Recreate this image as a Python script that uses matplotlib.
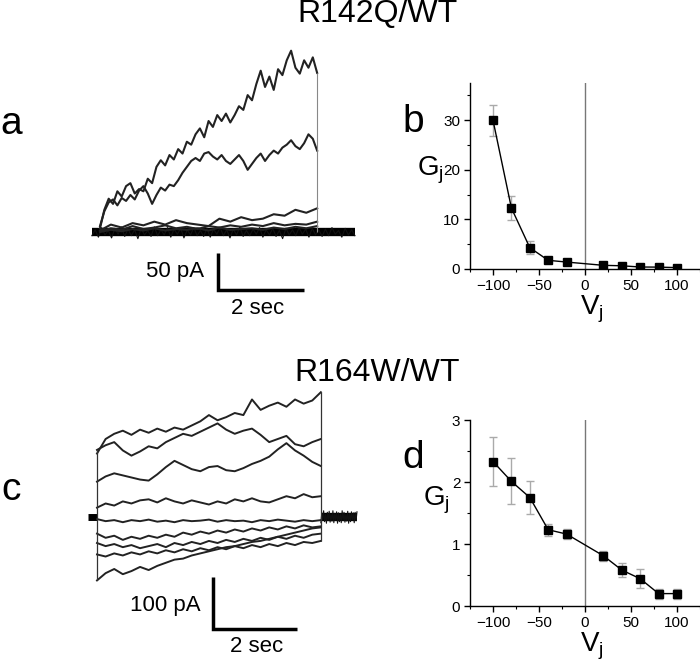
import numpy as np
import matplotlib
matplotlib.use("Agg")
import matplotlib.pyplot as plt
from matplotlib.ticker import MultipleLocator

plt.rcParams['font.family'] = ['Liberation Sans', 'DejaVu Sans']
plt.rcParams['mathtext.fontset'] = 'custom'
plt.rcParams['mathtext.rm'] = 'Liberation Sans'

W, H = 700, 663

# ---------------- data ----------------
titles = ["R142Q/WT", "R164W/WT"]
panel_letters = ["a", "b", "c", "d"]

vj = [-100, -80, -60, -40, -20, 20, 40, 60, 80, 100]
gj_b = [30.0, 12.3, 4.3, 1.75, 1.4, 0.74, 0.65, 0.4, 0.38, 0.28]
gj_b_err = [3.1, 2.35, 1.3, 0.25, 0.2, 0.12, 0.12, 0.1, 0.1, 0.08]
gj_d = [2.33, 2.01, 1.75, 1.23, 1.16, 0.81, 0.58, 0.44, 0.20, 0.20]
gj_d_err = [0.39, 0.37, 0.27, 0.10, 0.08, 0.08, 0.12, 0.15, 0.08, 0.08]

# panel a traces (pA), pulse duration in sec
pulse_a = 5.05
trace_a1 = [5, 30, 45, 38, 55, 48, 62, 66, 52, 58, 55, 72, 66, 88, 97, 90, 104, 98, 112,
            106, 122, 118, 132, 140, 128, 150, 142, 158, 150, 160, 148, 158, 170, 165, 185,
            178, 200, 218, 196, 210, 192, 220, 212, 232, 245, 222, 214, 232, 222, 236, 215]
trace_a2 = [8, 28, 40, 44, 36, 46, 42, 50, 44, 56, 62, 52, 38, 50, 60, 56, 64, 62, 70, 80,
            88, 96, 100, 96, 106, 108, 102, 98, 104, 96, 92, 98, 104, 96, 84, 92, 100, 106,
            96, 104, 110, 106, 114, 118, 124, 116, 112, 120, 132, 126, 110]
trace_a3 = [2, 10, 6, 12, 9, 14, 10, 16, 12, 10, 8, 18, 14, 20, 16, 18, 24, 22, 30, 26, 32]
trace_a4 = [1, 5, 3, 8, 4, 6, 9, 5, 7, 4, 8, 6, 9, 7, 10, 8, 12, 9, 11, 10, 14]
trace_a5 = [0, 3, 1, 4, 2, 5, 2, 4, 3, 5, 2, 6, 3, 4, 5, 3, 6, 4, 7, 5, 8]
base_a_t = [-0.19, 5.93]
base_a_level = 0
base_a = [-5, 3, -7, 6, -4, 2, -8, 5, -3, 7, -6, 4, -5, 3, -9, 5, -4, 2, -6, 7, -5, 3, -4,
          6, -7, 4, -3, 5, -8, 3, -4, 6, -5, 2, -6, 5, -7, 4, -3, 6, -5, 3, -8, 4, -4, 7,
          -6, 2, -5, 4, -3, 6, -7, 3, -4, 5, -6, 2, -9, 5, -4, 3, -5, 6, -3, 4, -7, 5, -4,
          3, -6, 4, -5, 6, -3, 2, -7, 5, -4, 3, -5]

# panel c traces (pA)
pulse_c = 5.33
pre_c_t = -0.21
post_c_t = 6.19
hold_c_level = 0
trace_c = [
    [122, 150, 160, 166, 158, 168, 162, 170, 164, 172, 168, 176, 184, 196, 186, 192, 200,
     196, 226, 206, 214, 220, 212, 226, 218, 224, 240],
    [129, 138, 144, 128, 118, 126, 136, 132, 144, 152, 160, 156, 164, 172, 180, 168, 160,
     166, 170, 158, 144, 150, 156, 140, 136, 144, 150],
    [68, 78, 84, 80, 76, 72, 70, 82, 96, 108, 100, 92, 88, 96, 98, 90, 88, 94, 102, 108,
     116, 130, 142, 128, 118, 106, 98],
    [18, 26, 22, 30, 26, 32, 34, 28, 36, 30, 26, 32, 28, 24, 30, 26, 34, 30, 36, 30, 28,
     34, 40, 36, 44, 38, 40],
    [-4, -8, -6, -10, -6, -8, -5, -9, -7, -10, -6, -8, -7, -5, -9, -6, -8, -7, -10, -6, -8,
     -5, -7, -9, -6, -8, -6],
    [-32, -40, -36, -44, -38, -42, -36, -40, -34, -38, -30, -34, -28, -32, -26, -30, -24,
     -28, -22, -26, -20, -24, -18, -22, -16, -20, -18],
    [-50, -56, -52, -58, -54, -60, -56, -52, -58, -50, -54, -48, -52, -46, -50, -44, -48,
     -42, -46, -40, -44, -38, -42, -36, -40, -34, -32],
    [-72, -76, -70, -74, -68, -72, -66, -70, -64, -68, -62, -66, -60, -64, -58, -62, -56,
     -60, -54, -58, -52, -56, -50, -54, -48, -50, -46],
    [-122, -108, -100, -110, -104, -96, -102, -94, -88, -82, -80, -74, -70, -66, -62, -58,
     -56, -52, -48, -46, -42, -38, -34, -30, -26, -22, -20],
]
hold_c = [-11, 8, -6, 12, -9, 5, -12, 9, -7, 11, -10, 6, -8, 12, -11, 7, -6, 10, -12, 8,
          -9, 6, -11, 12, -7, 9, -10, 5, -8, 11, -12, 7, -9, 10, -6, 8, -11, 9, -7, 10]

bar_sec = 2
bar_pA_a = 50
bar_pA_c = 100


def px_axes(left, top, right, bottom):
    return fig.add_axes([left / W, 1 - bottom / H, (right - left) / W, (bottom - top) / H])


def ftext(x, y, s, **kw):
    fig.text(x / W, 1 - y / H, s, **kw)


fig = plt.figure(figsize=(W / 100, H / 100), dpi=100)

# ---------------- panel a ----------------
axa = px_axes(80, 30, 370, 320)
axa.set_xlim((80 - 100) / 43, (370 - 100) / 43)
axa.set_ylim(-(320 - 232) / 0.74, (232 - 30) / 0.74)
axa.axis('off')
tb = np.linspace(base_a_t[0], base_a_t[1], len(base_a))
axa.plot(base_a_t, [base_a_level, base_a_level], color='black', lw=6, solid_capstyle='butt')
axa.plot(tb, base_a, color='#111111', lw=0.8)
for tr in [trace_a5, trace_a4, trace_a3, trace_a2, trace_a1]:
    t = np.linspace(0, pulse_a, len(tr))
    axa.plot(t, tr, color='#222222', lw=1.5)
axa.vlines(pulse_a, 0, max(trace_a1[-1], trace_a2[-1]), color='#888888', lw=0.8)
# scale bar a
sx = (218 - 100) / 43
sy = (232 - 253) / 0.74
axa.plot([sx, sx, sx + bar_sec], [sy, sy - bar_pA_a, sy - bar_pA_a], color='black', lw=2.5,
         solid_joinstyle='miter', solid_capstyle='butt')
ftext(204, 272, f"{bar_pA_a} pA", fontsize=16, ha='right', va='center')
ftext(258, 308, f"{bar_sec} sec", fontsize=16, ha='center', va='center')

# ---------------- panel c ----------------
axc = px_axes(80, 370, 370, 663)
axc.set_xlim((80 - 97) / 42, (370 - 97) / 42)
axc.set_ylim(-(663 - 517) / 0.52, (517 - 370) / 0.52)
axc.axis('off')
axc.plot([pre_c_t, 0], [hold_c_level, hold_c_level], color='black', lw=5, solid_capstyle='butt')
axc.plot([pulse_c, post_c_t], [hold_c_level, hold_c_level], color='black', lw=6,
         solid_capstyle='butt')
th = np.linspace(pulse_c, post_c_t, len(hold_c))
axc.plot(th, hold_c, color='#111111', lw=0.8)
for tr in trace_c:
    t = np.linspace(0, pulse_c, len(tr))
    axc.plot(t, tr, color='#222222', lw=1.4)
firsts = [tr[0] for tr in trace_c]
lasts = [tr[-1] for tr in trace_c]
axc.vlines(0, min(firsts), max(firsts), color='#333333', lw=0.9)
axc.vlines(pulse_c, min(lasts), max(lasts), color='#333333', lw=0.9)
sx = (213 - 97) / 42
sy = (517 - 577) / 0.52
axc.plot([sx, sx, sx + bar_sec], [sy, sy - bar_pA_c, sy - bar_pA_c], color='black', lw=2.5,
         solid_joinstyle='miter', solid_capstyle='butt')
ftext(201, 605, f"{bar_pA_c} pA", fontsize=16, ha='right', va='center')
ftext(257, 647, f"{bar_sec} sec", fontsize=16, ha='center', va='center')


# ---------------- panels b, d ----------------
def gplot(ax, y, err, ymax, major, minor):
    ax.set_xlim(-125, 125)
    ax.set_ylim(0, ymax)
    ax.axvline(0, color='#777777', lw=1)
    ax.errorbar(vj, y, yerr=err, fmt='none', ecolor='#aaaaaa', elinewidth=1, capsize=3,
                capthick=1, zorder=2)
    ax.plot(vj, y, color='black', lw=1, marker='s', ms=5.5, zorder=3)
    for s in ['top', 'right']:
        ax.spines[s].set_visible(False)
    for s in ['left', 'bottom']:
        ax.spines[s].set_linewidth(1)
    ax.xaxis.set_major_locator(MultipleLocator(50))
    ax.xaxis.set_minor_locator(MultipleLocator(25))
    ax.yaxis.set_major_locator(MultipleLocator(major))
    ax.yaxis.set_minor_locator(MultipleLocator(minor))
    ax.tick_params(which='major', direction='out', length=4, width=1, labelsize=11, pad=3)
    ax.tick_params(which='minor', direction='out', length=2.5, width=0.8)


axb = px_axes(470, 83, 700, 269)
gplot(axb, gj_b, gj_b_err, 37.5, 10, 5)
axd = px_axes(470, 420, 700, 606)
gplot(axd, gj_d, gj_d_err, 3, 1, 0.5)

ftext(430, 170, r"$\mathregular{G_j}$", fontsize=20, ha='center', va='center')
ftext(436, 500, r"$\mathregular{G_j}$", fontsize=20, ha='center', va='center')
ftext(592, 309, r"$\mathregular{V_j}$", fontsize=20, ha='center', va='center')
ftext(592, 646, r"$\mathregular{V_j}$", fontsize=20, ha='center', va='center')

# titles and letters
ftext(377, 14, titles[0], fontsize=23, ha='center', va='center')
ftext(377, 373, titles[1], fontsize=23, ha='center', va='center')
ftext(11, 124, panel_letters[0], fontsize=28, ha='center', va='center')
ftext(413, 122, panel_letters[1], fontsize=28, ha='center', va='center')
ftext(11, 490, panel_letters[2], fontsize=28, ha='center', va='center')
ftext(413, 458, panel_letters[3], fontsize=28, ha='center', va='center')

fig.savefig("out.png", dpi=100)
